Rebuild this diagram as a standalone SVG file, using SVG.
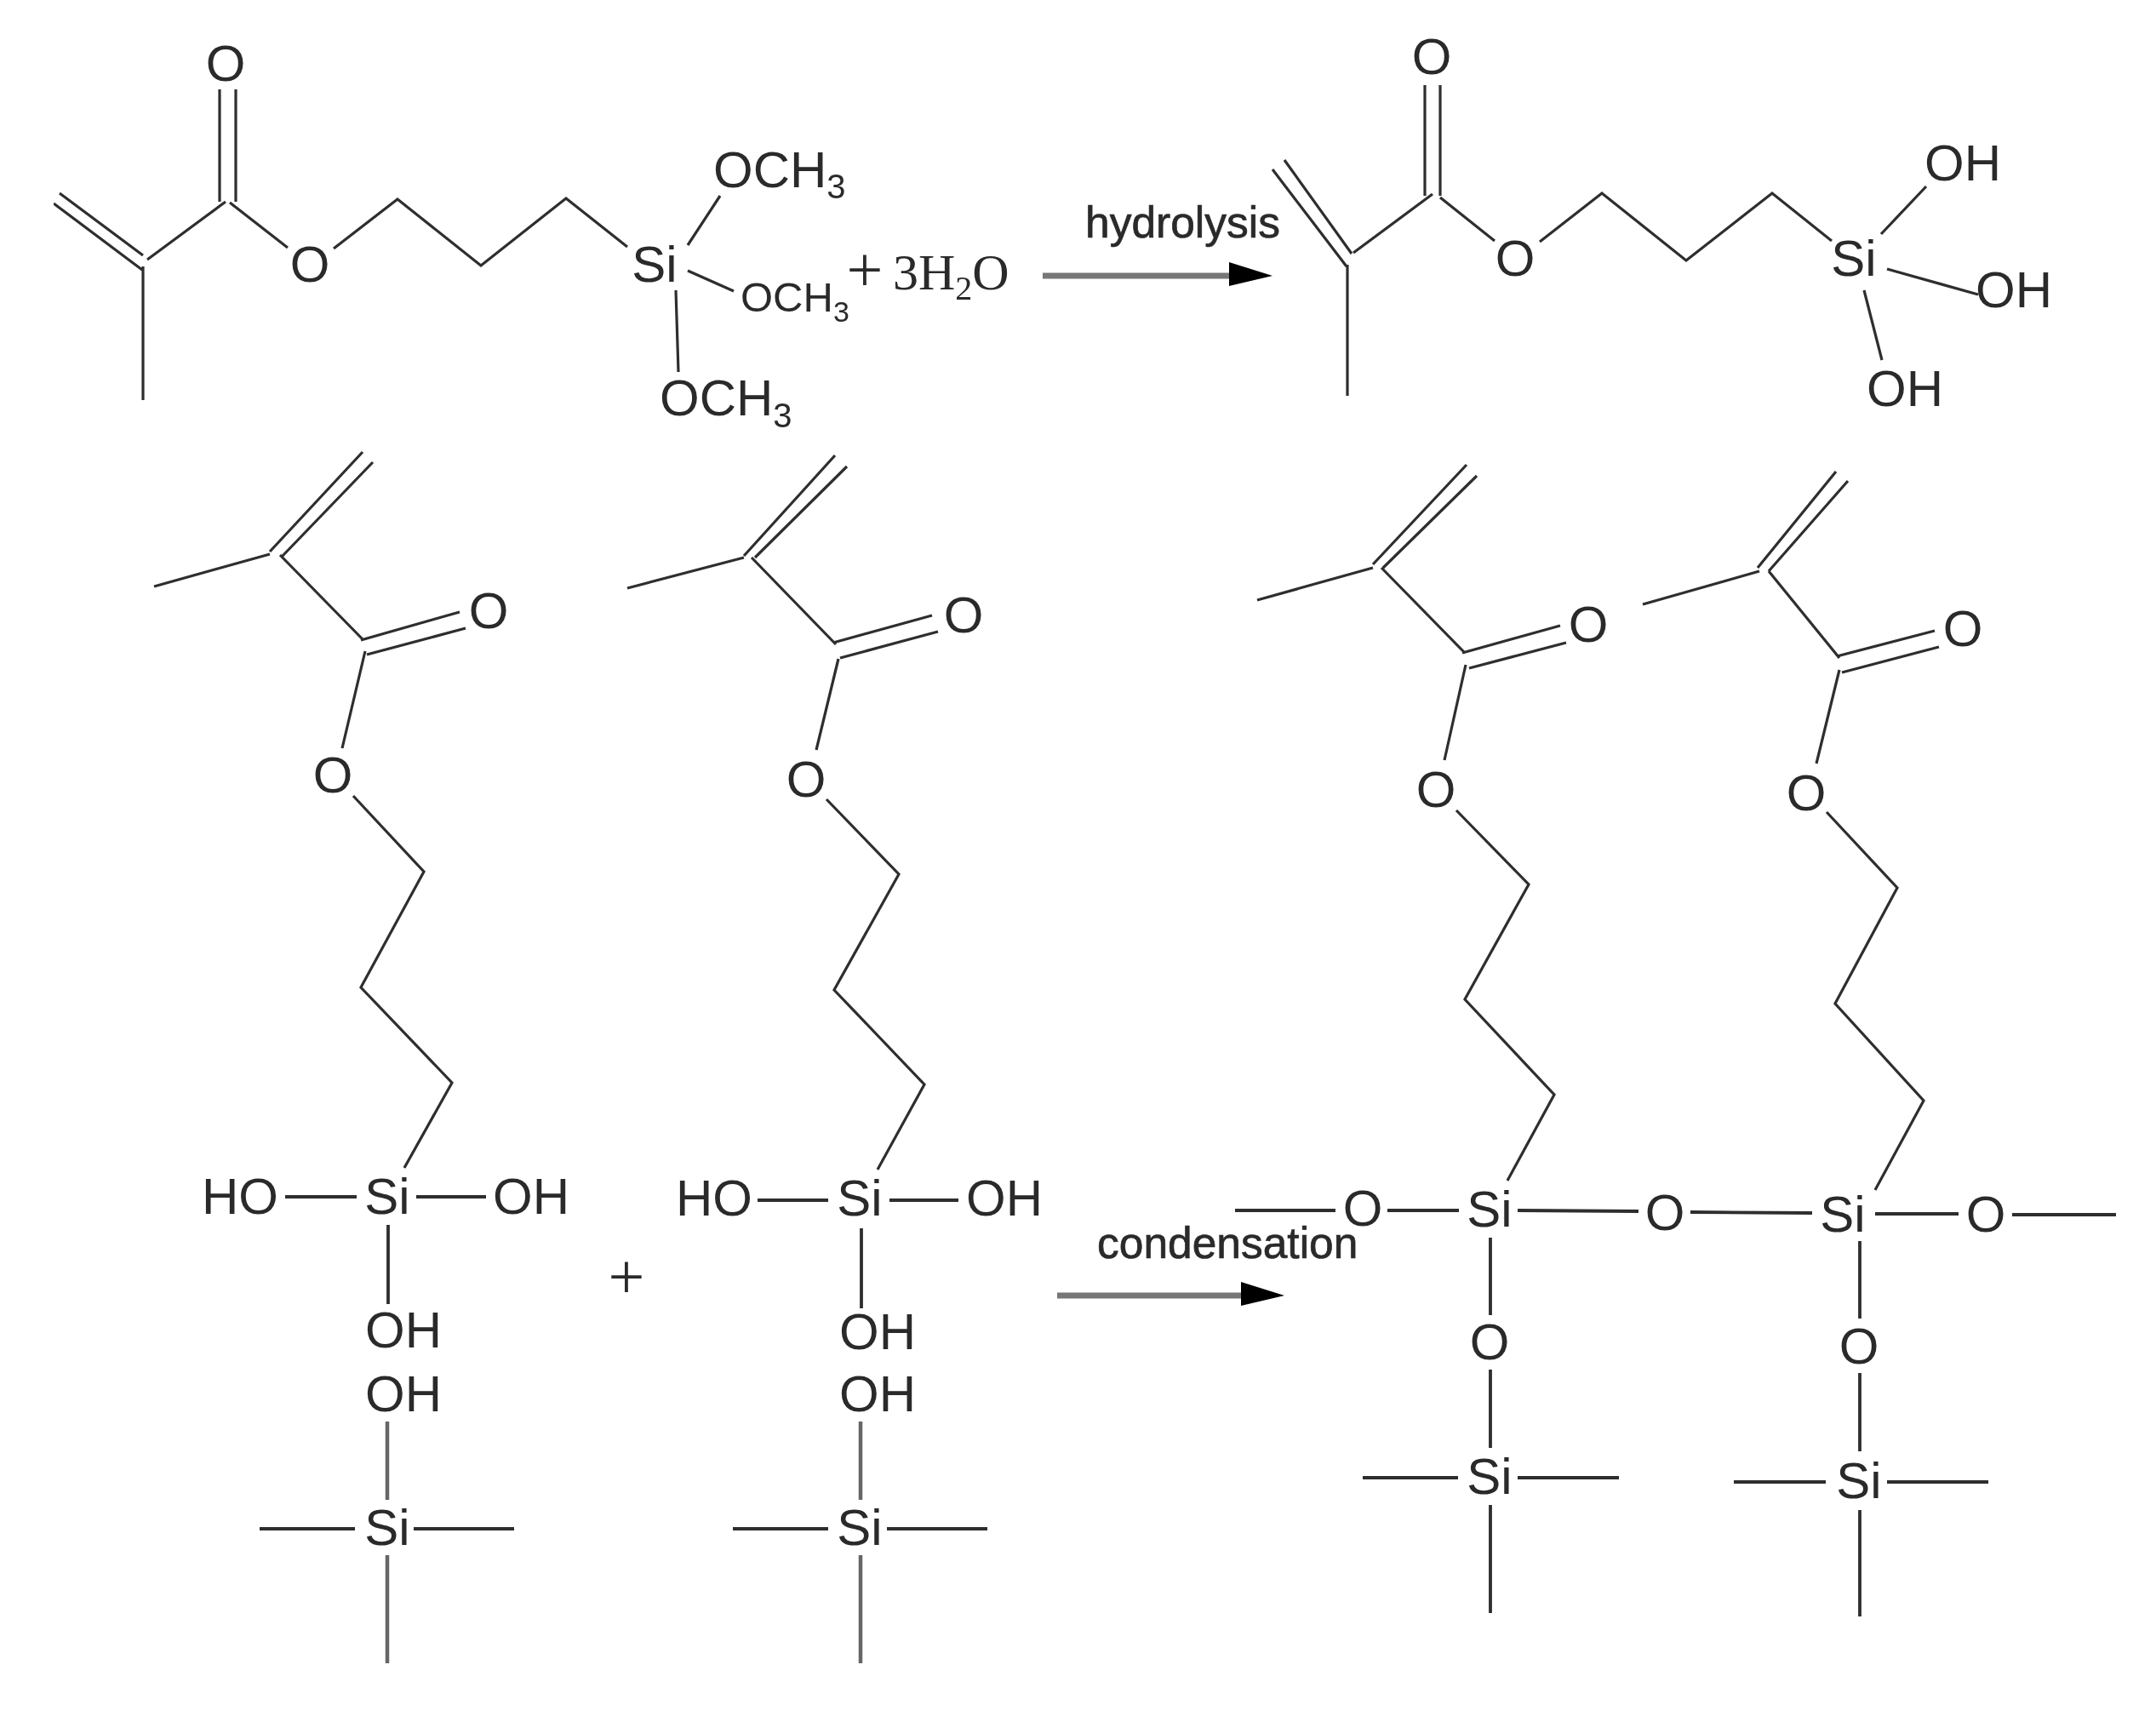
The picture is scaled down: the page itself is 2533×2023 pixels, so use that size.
<svg xmlns="http://www.w3.org/2000/svg" width="2533" height="2023" viewBox="0 0 2533 2023">
<style>
.t{font-family:"Liberation Sans",Arial,sans-serif;font-size:60px;fill:#2a2a2a}
.m{font-size:49px}
.l{font-size:51.5px;stroke:#2a2a2a;stroke-width:.7}
.s{font-family:"Liberation Serif","Times New Roman",serif}
.p{font-size:76px}
.d{font-size:40px}
.e{font-size:34px}
.c{text-anchor:middle}
.b{fill:none;stroke:#2e2e2e;stroke-width:3.2}
.h{stroke-width:3.8}
.g{stroke:#666;stroke-width:4.5}
.a{fill:none;stroke:#777;stroke-width:7}
</style>
<defs>
<marker id="ah" markerUnits="userSpaceOnUse" markerWidth="52" markerHeight="30" refX="0" refY="16" orient="auto"><path d="M0 0L51 16L0 28Z" fill="#000"/></marker>
<filter id="soft" x="0" y="0" width="100%" height="100%"><feGaussianBlur stdDeviation="0.7"/></filter>
</defs>
<rect width="2533" height="2023" fill="#fff"/>
<g filter="url(#soft)">
<g id="connectors">
<g id="mol-a-bonds">
<path class="b" d="M70 227L168 300M63 239L167 317M168 313V470M173 305L265 237M258 237V105M277 237V105M270 238L338 291M392 292L467 234L565 312L665 233L737 290M808 288L846 230M808 318L862 342M794 341L797 437"/>
</g>
<g id="mol-b-bonds">
<path class="b" d="M1509 188L1588 298M1495 199L1582 313M1583 311V465M1590 297L1683 228M1674 230V100M1692 230V100M1692 232L1756 283M1809 284L1882 227L1981 306L2082 227L2152 283M2210 275L2263 219M2217 316L2324 346M2190 341L2211 423"/>
</g>
<g id="mol-c-bonds">
<path class="b" d="M426 531L317 648M438 543L332 653M181 689L317 651M329 652L427 752M424 752L540 719M431 769L547 738M429 765L402 879M415 935L498 1024L424 1160L531 1272L475 1372"/>
<path class="b h" d="M335 1406H419M489 1406H571M456 1439V1532M305 1796H417M486 1796H604"/>
<path class="b g" d="M455 1670V1762M455 1827V1954"/>
</g>
<g id="mol-d-bonds">
<path class="b" d="M981 535L874 653M995 548L887 655M737 691L874 655M883 655L982 757M979 755L1095 723M987 773L1102 742M985 774L959 881M971 939L1056 1027L980 1163L1086 1274L1031 1374"/>
<path class="b h" d="M890 1410H973M1045 1410H1126M1012 1443V1537M861 1796H973M1042 1796H1160"/>
<path class="b g" d="M1011 1670V1762M1011 1827V1954"/>
</g>
<g id="mol-e-bonds">
<path class="b" d="M1723 546L1613 663M1735 559L1625 667M1477 705L1613 667M1623 667L1721 767M1718 767L1833 735M1726 785L1840 755M1722 781L1697 893M1711 952L1796 1039L1721 1174L1826 1286L1771 1387"/>
<path class="b h" d="M1451 1422H1569M1630 1422H1714M1783 1422L1925 1423M1601 1736H1713M1783 1736H1902M1751 1454V1545M1751 1609V1701M1751 1768V1895"/>
</g>
<g id="mol-f-bonds">
<path class="b" d="M2157 554L2065 667M2171 565L2078 671M1930 710L2067 671M2078 671L2161 773M2158 771L2273 741M2164 790L2278 760M2161 787L2134 897M2146 954L2229 1043L2156 1179L2260 1293L2203 1398"/>
<path class="b h" d="M1986 1424L2129 1425M2203 1426H2301M2364 1427H2486M2037 1741H2145M2217 1741H2336M2185 1458V1549M2185 1613V1705M2185 1774V1899"/>
</g>
<path id="arrow-hydrolysis" class="a" d="M1225 324H1444" marker-end="url(#ah)"/>
<path id="arrow-condensation" class="a" d="M1242 1522H1458" marker-end="url(#ah)"/>
</g>
<g id="mol-a">
<g id="a-o1"><text class="t c" x="265" y="95">O</text></g>
<g id="a-o2"><text class="t c" x="364" y="331">O</text></g>
<g id="a-si"><text class="t c" x="769" y="331">Si</text></g>
<g id="a-och3-top"><text class="t" x="838" y="220">OCH<tspan class="d" dy="13">3</tspan></text></g>
<g id="a-och3-mid"><text class="t m" x="870" y="366">OCH<tspan class="e" dy="12">3</tspan></text></g>
<g id="a-och3-bot"><text class="t" x="775" y="488">OCH<tspan class="d" dy="14">3</tspan></text></g>
</g>
<g id="reagent">
<g id="plus-1"><text class="t s p c" x="1016" y="342">+</text></g>
<g id="water"><text class="t s" x="1049" y="340">3H<tspan class="d" dy="12">2</tspan><tspan dy="-12">O</tspan></text></g>
</g>
<g id="label-hydrolysis"><text class="t l" x="1275" y="279">hydrolysis</text></g>
<g id="mol-b">
<g id="b-o1"><text class="t c" x="1682" y="87">O</text></g>
<g id="b-o2"><text class="t c" x="1780" y="324">O</text></g>
<g id="b-si"><text class="t c" x="2178" y="324">Si</text></g>
<g id="b-oh1"><text class="t c" x="2306" y="212">OH</text></g>
<g id="b-oh2"><text class="t c" x="2366" y="361">OH</text></g>
<g id="b-oh3"><text class="t c" x="2238" y="477">OH</text></g>
</g>
<g id="mol-c">
<g id="c-o1"><text class="t c" x="574" y="738">O</text></g>
<g id="c-o2"><text class="t c" x="391" y="931">O</text></g>
<g id="c-ho"><text class="t c" x="282" y="1426">HO</text></g>
<g id="c-si"><text class="t c" x="455" y="1426">Si</text></g>
<g id="c-oh1"><text class="t c" x="624" y="1426">OH</text></g>
<g id="c-oh2"><text class="t c" x="474" y="1583">OH</text></g>
<g id="c-oh3"><text class="t c" x="474" y="1658">OH</text></g>
<g id="c-si2"><text class="t c" x="455" y="1815">Si</text></g>
</g>
<g id="plus-2"><text class="t s p c" x="736" y="1525">+</text></g>
<g id="mol-d">
<g id="d-o1"><text class="t c" x="1132" y="743">O</text></g>
<g id="d-o2"><text class="t c" x="947" y="936">O</text></g>
<g id="d-ho"><text class="t c" x="839" y="1428">HO</text></g>
<g id="d-si"><text class="t c" x="1010" y="1428">Si</text></g>
<g id="d-oh1"><text class="t c" x="1180" y="1428">OH</text></g>
<g id="d-oh2"><text class="t c" x="1031" y="1585">OH</text></g>
<g id="d-oh3"><text class="t c" x="1031" y="1658">OH</text></g>
<g id="d-si2"><text class="t c" x="1010" y="1815">Si</text></g>
</g>
<g id="label-condensation"><text class="t l" x="1289" y="1478">condensation</text></g>
<g id="mol-e">
<g id="e-o1"><text class="t c" x="1866" y="754">O</text></g>
<g id="e-o2"><text class="t c" x="1687" y="948">O</text></g>
<g id="e-o3"><text class="t c" x="1601" y="1440">O</text></g>
<g id="e-si"><text class="t c" x="1750" y="1441">Si</text></g>
<g id="e-o4"><text class="t c" x="1750" y="1597">O</text></g>
<g id="e-si2"><text class="t c" x="1750" y="1755">Si</text></g>
</g>
<g id="link-o"><text class="t c" x="1956" y="1445">O</text></g>
<g id="mol-f">
<g id="f-o1"><text class="t c" x="2306" y="759">O</text></g>
<g id="f-o2"><text class="t c" x="2122" y="952">O</text></g>
<g id="f-si"><text class="t c" x="2165" y="1447">Si</text></g>
<g id="f-o3"><text class="t c" x="2333" y="1447">O</text></g>
<g id="f-o4"><text class="t c" x="2184" y="1602">O</text></g>
<g id="f-si2"><text class="t c" x="2184" y="1760">Si</text></g>
</g>
</g>
</svg>
